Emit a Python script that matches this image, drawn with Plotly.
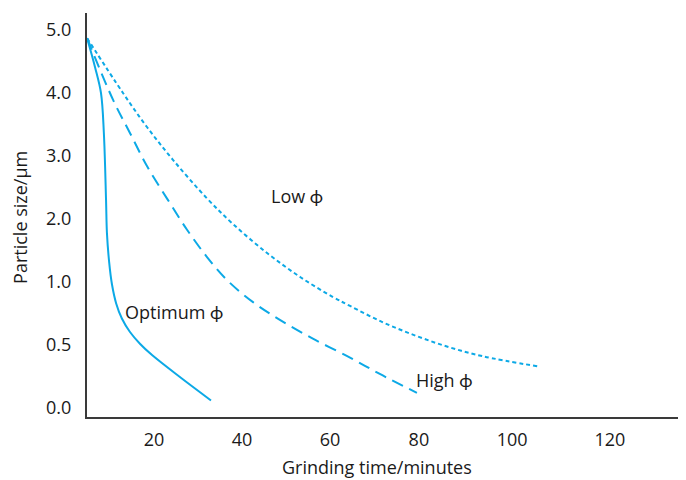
import numpy as np
import plotly.graph_objects as go

# ---- data ----
x_optimum = [4.8, 6.6, 7.95, 8.6, 9.1, 9.3, 9.8, 10.45, 11.4, 12.7, 14.5, 16.8, 19.55, 26.1, 32.95]
y_optimum = [4.87, 4.41, 4.0, 3.37, 2.30, 1.78, 1.32, 0.98, 0.83, 0.71, 0.605, 0.51, 0.42, 0.24, 0.06]

x_high = [4.8, 10.7, 14.5, 18.4, 23.0, 27.5, 32.0, 36.6, 42.5, 48.6, 56.1, 64.5, 71.2, 79.55]
y_high = [4.87, 3.89, 3.37, 2.84, 2.32, 1.83, 1.40, 1.03, 0.84, 0.70, 0.55, 0.40, 0.27, 0.12]

x_low = [4.8, 12.95, 18.4, 24.3, 32.0, 37.95, 45.7, 53.2, 60.7, 64.5, 71.9, 79.55, 86.7, 93.8, 105.3]
y_low = [4.87, 4.0, 3.46, 2.94, 2.33, 1.92, 1.46, 1.08, 0.88, 0.81, 0.68, 0.57, 0.48, 0.41, 0.33]

x_tick_labels = [20, 40, 60, 80, 100, 120]
y_tick_labels = [0.0, 0.5, 1.0, 2.0, 3.0, 4.0, 5.0]

labels = ["Optimum \u03d5", "High \u03d5", "Low \u03d5"]
label_x = [24.5, 85.4, 52.5]
label_y = [0.76, 0.22, 2.37]

# ---- the drawn axes are not evenly spaced: warp data onto the drawn scale ----
X_ANCHORS = [0] + x_tick_labels
X_SLOTS = [0, 20, 40, 60, 80.2, 101.4, 123.6]
Y_SLOTS = list(range(len(y_tick_labels)))


def wx(v):
    return np.interp(v, X_ANCHORS, X_SLOTS)


def wy(v):
    return np.interp(v, y_tick_labels, Y_SLOTS)


color = "#0CA9E6"
fig = go.Figure()
fig.add_trace(go.Scatter(x=wx(x_optimum), y=wy(y_optimum), mode="lines",
                         line=dict(color=color, width=2, shape="spline", smoothing=1.0)))
fig.add_trace(go.Scatter(x=wx(x_high), y=wy(y_high), mode="lines",
                         line=dict(color=color, width=2, dash="12px,7px", shape="spline", smoothing=1.0)))
fig.add_trace(go.Scatter(x=wx(x_low), y=wy(y_low), mode="lines",
                         line=dict(color=color, width=2, dash="4px,3px", shape="spline", smoothing=1.0)))

font = dict(family="Open Sans, Lato, sans-serif", size=18, color="#1a1a1a")

for t, lx, ly in zip(labels, label_x, label_y):
    fig.add_annotation(x=float(wx(lx)), y=float(wy(ly)), text=t, showarrow=False,
                       font=font, xanchor="center", yanchor="middle")

fig.add_annotation(xref="paper", yref="paper", x=-0.112, y=0.495, text="Particle size/\u03bcm",
                   textangle=-90, showarrow=False, font=font, xanchor="center", yanchor="middle")
fig.add_annotation(xref="paper", yref="paper", x=0.484, y=-0.124, text="Grinding time/minutes",
                   showarrow=False, font=font, xanchor="center", yanchor="middle")

fig.update_layout(
    width=678, height=472,
    margin=dict(l=79, r=0, t=5, b=63),
    paper_bgcolor="white", plot_bgcolor="white",
    showlegend=False,
    font=font,
    xaxis=dict(range=[4.77, 140.9], tickvals=list(wx(x_tick_labels)),
               ticktext=[str(v) for v in x_tick_labels], showgrid=False, zeroline=False,
               showline=True, linecolor="#3a3a3a", linewidth=2, ticks="", ticklabelstandoff=5),
    yaxis=dict(range=[-0.143, 6.27], tickvals=list(wy(y_tick_labels)),
               ticktext=[f"{v:.1f}" for v in y_tick_labels], showgrid=False, zeroline=False,
               showline=True, linecolor="#3a3a3a", linewidth=2, ticks="", ticklabelstandoff=10),
)

fig.write_html("out.html")
